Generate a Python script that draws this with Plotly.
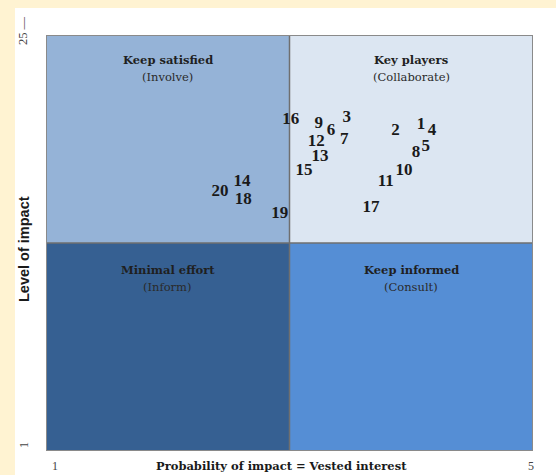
import plotly.graph_objects as go

# Stakeholder scores: probability of impact (x, 1-5) and level of impact (y, 1-25)
stakeholders = ["1", "2", "3", "4", "5", "6", "7", "8", "9", "10",
                "11", "12", "13", "14", "15", "16", "17", "18", "19", "20"]
probability = [4.08, 3.87, 3.47, 4.17, 4.12, 3.34, 3.45, 4.04, 3.24, 3.94,
               3.79, 3.22, 3.25, 2.61, 3.12, 3.01, 3.67, 2.62, 2.92, 2.43]
impact = [19.83, 19.45, 20.21, 19.45, 18.58, 19.45, 18.98, 18.19, 19.88, 17.14,
          16.56, 18.83, 18.00, 16.56, 17.14, 20.10, 15.02, 15.50, 14.66, 15.94]

quadrant_titles = ["Keep satisfied", "Key players", "Minimal effort", "Keep informed"]
quadrant_subtitles = ["(Involve)", "(Collaborate)", "(Inform)", "(Consult)"]
quadrant_colors = ["#95B3D7", "#DCE6F2", "#366092", "#558ED5"]

x_ticks = ["1", "5"]
y_ticks = ["1", "25 —"]
x_title = "Probability of impact = Vested interest"
y_title = "Level of impact"

X_MIN, X_MAX, X_MID = 1, 5, 3
Y_MIN, Y_MAX, Y_MID = 1, 25, 13

fig = go.Figure()

fig.add_trace(go.Scatter(
    x=probability, y=impact, mode="text",
    text=["<b>%s</b>" % s for s in stakeholders],
    textposition="middle center",
    textfont=dict(family="Liberation Serif", size=17, color="#1a1a1a"),
    hoverinfo="skip", showlegend=False,
))

shapes = []
# white panel over cream page
shapes.append(dict(type="rect", xref="paper", yref="paper",
                   x0=-0.0637, x1=1.06, y0=-0.07, y1=1.065,
                   fillcolor="white", line=dict(width=0), layer="below"))
# quadrants
quads = [
    (X_MIN, X_MID, Y_MID, Y_MAX),
    (X_MID, X_MAX, Y_MID, Y_MAX),
    (X_MIN, X_MID, Y_MIN, Y_MID),
    (X_MID, X_MAX, Y_MIN, Y_MID),
]
for (x0, x1, y0, y1), c in zip(quads, quadrant_colors):
    shapes.append(dict(type="rect", xref="x", yref="y", x0=x0, x1=x1, y0=y0, y1=y1,
                       fillcolor=c, line=dict(width=0), layer="below"))
# divider lines
shapes.append(dict(type="line", xref="x", yref="y", x0=X_MID, x1=X_MID, y0=Y_MIN, y1=Y_MAX,
                   line=dict(color="#6f6f6f", width=1.5), layer="below"))
shapes.append(dict(type="line", xref="x", yref="y", x0=X_MIN, x1=X_MAX, y0=Y_MID, y1=Y_MID,
                   line=dict(color="#6f6f6f", width=1.5), layer="below"))
# outer border
shapes.append(dict(type="rect", xref="x", yref="y", x0=X_MIN, x1=X_MAX, y0=Y_MIN, y1=Y_MAX,
                   fillcolor="rgba(0,0,0,0)", line=dict(color="#8a8a8a", width=2), layer="above"))

annotations = []
centers = [(2, 23.56), (4, 23.56), (2, 11.44), (4, 11.44)]
for (cx, cy), t, s in zip(centers, quadrant_titles, quadrant_subtitles):
    annotations.append(dict(x=cx, y=cy, xref="x", yref="y", text="<b>%s</b>" % t,
                            xanchor="center", yanchor="middle",
                            showarrow=False, font=dict(family="DejaVu Serif", size=11.5, color="#1f1f1f")))
    annotations.append(dict(x=cx, y=cy - 1.0, xref="x", yref="y", text=s,
                            xanchor="center", yanchor="middle",
                            showarrow=False, font=dict(family="DejaVu Serif", size=11.5, color="#2a2a2a")))

def paper_note(px, py, text, size, family="Liberation Serif", color="#444", angle=0):
    return dict(x=(px - 46) / 487, y=(451 - py) / 416, xref="paper", yref="paper",
                text=text, textangle=angle, xanchor="center", yanchor="middle",
                showarrow=False, font=dict(family=family, size=size, color=color))

annotations.append(paper_note(281, 466, "<b>%s</b>" % x_title, 11.5, family="DejaVu Serif", color="#1a1a1a"))
annotations.append(paper_note(55, 466, x_ticks[0], 12))
annotations.append(paper_note(531, 466, x_ticks[1], 12))
annotations.append(paper_note(24, 249, "<b>%s</b>" % y_title, 14.5, family="Liberation Sans",
                              color="#1a1a1a", angle=-90))
annotations.append(paper_note(24, 445, y_ticks[0], 12, angle=-90))
annotations.append(paper_note(23, 31, y_ticks[1], 12.5, angle=-90))

fig.update_layout(
    width=556, height=475,
    margin=dict(l=46, r=23, t=35, b=24),
    paper_bgcolor="#FFF3D2",
    plot_bgcolor="rgba(0,0,0,0)",
    shapes=shapes, annotations=annotations,
    xaxis=dict(range=[X_MIN, X_MAX], showgrid=False, zeroline=False, showticklabels=False,
               showline=False, fixedrange=True),
    yaxis=dict(range=[Y_MIN, Y_MAX], showgrid=False, zeroline=False, showticklabels=False,
               showline=False, fixedrange=True),
)

fig.write_html("out.html", config={"displayModeBar": False},
               post_script="document.body.style.margin='0';document.body.style.overflow='hidden';")
